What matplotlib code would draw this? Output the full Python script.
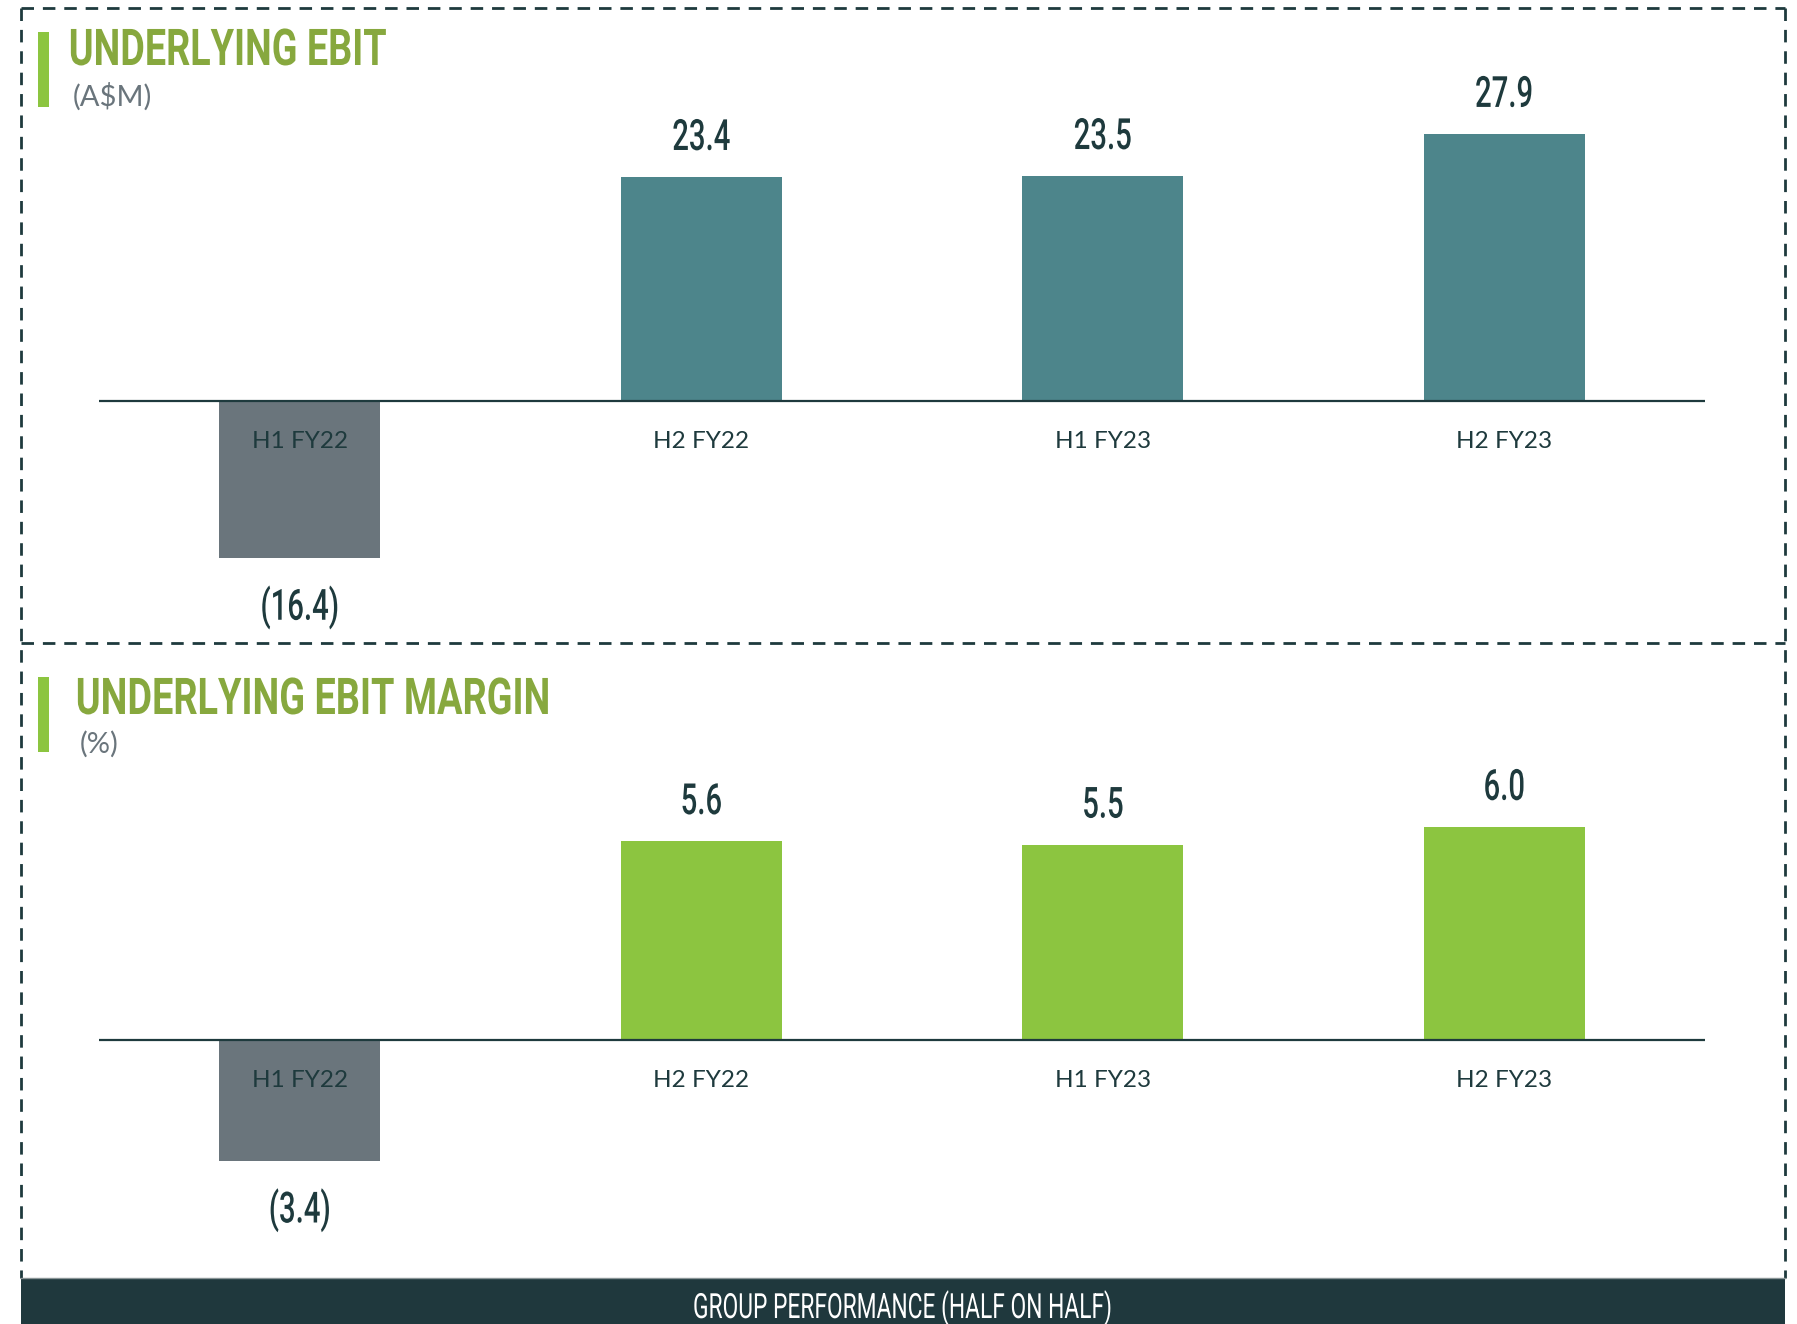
import matplotlib
matplotlib.use("Agg")
import matplotlib.pyplot as plt
from matplotlib.lines import Line2D
from matplotlib.patches import Rectangle
from matplotlib.patheffects import AbstractPathEffect
from matplotlib.transforms import Affine2D

# ---- data ----
categories = ["H1 FY22", "H2 FY22", "H1 FY23", "H2 FY23"]
ebit_values = [-16.4, 23.4, 23.5, 27.9]
margin_values = [-3.4, 5.6, 5.5, 6.0]

title_top = "UNDERLYING EBIT"
unit_top = "(A$M)"
title_bottom = "UNDERLYING EBIT MARGIN"
unit_bottom = "(%)"
banner_text = "GROUP PERFORMANCE (HALF ON HALF)"

# ---- style ----
W, H = 1797, 1324
DARK = "#1e3a3d"
TEAL = "#4d858b"
GREEN = "#8cc540"
GREY = "#6a757c"
TITLE_GREEN = "#87a83e"
SUB_GREY = "#6a757c"
COND = ["Roboto", "DejaVu Sans"]
BODY = ["Lato", "DejaVu Sans"]


class Squeeze(AbstractPathEffect):
    """Draw the glyphs horizontally condensed (the text stays a Text artist)."""

    def __init__(self, sx=None, target=None, anchor="center"):
        super().__init__()
        self.sx = sx
        self.target = target
        self.anchor = anchor

    def draw_path(self, renderer, gc, tpath, affine, rgbFace=None):
        ext = tpath.get_extents()
        sx = self.sx
        if self.target is not None:
            w = tpath.transformed(affine).get_extents().width
            sx = self.target / w if w > 0 else 1.0
        cx = (ext.x0 + ext.x1) / 2 if self.anchor == "center" else ext.x0
        t = Affine2D().translate(-cx, 0).scale(sx, 1).translate(cx, 0) + affine
        renderer.draw_path(gc, tpath, t, rgbFace)


fig = plt.figure(figsize=(W / 100, H / 100), dpi=100)
fig.patch.set_facecolor("white")


def fx(px):
    return px / W


def fy(py):
    return 1 - py / H


def fmt(v):
    return f"({abs(v):.1f})" if v < 0 else f"{v:.1f}"


VAL_SQUEEZE = [Squeeze(sx=0.68)]


def panel(top_px, bottom_px, axis_px, px_per_unit, values, pos_color):
    ax = fig.add_axes([fx(99), fy(bottom_px), fx(1705) - fx(99), (bottom_px - top_px) / H])
    ax.set_xlim(-0.5, 3.5)
    ax.set_ylim(-(bottom_px - axis_px) / px_per_unit, (axis_px - top_px) / px_per_unit)
    ax.axis("off")
    x = list(range(len(categories)))
    colors = [GREY if v < 0 else pos_color for v in values]
    ax.bar(x, values, width=0.4, color=colors, zorder=2)
    ax.axhline(0, color=DARK, lw=1.6, zorder=3)
    for xi, v, c in zip(x, values, categories):
        ax.annotate(c, (xi, 0), xytext=(0, -34), textcoords="offset points",
                    ha="center", va="baseline", fontsize=17.5, color=DARK,
                    family=BODY, zorder=4)
        off = 19.5 if v >= 0 else -44.5
        ax.annotate(fmt(v), (xi, v), xytext=(0, off), textcoords="offset points",
                    ha="center", va="baseline", fontsize=31, color=DARK,
                    fontweight="medium", family=COND, path_effects=VAL_SQUEEZE,
                    zorder=4)
    return ax


panel(8, 643, 401, 9.57, ebit_values, TEAL)
panel(643, 1278, 1040, 35.5, margin_values, GREEN)

# ---- dashed frame ----
dash = dict(color=DARK, lw=2.0, linestyle=(0, (4.5, 3.2)))
L, R = 21, 1785
for (x0, y0, x1, y1) in [(L, 8, R, 8), (L, 643, R, 643), (L, 8, L, 1278), (R, 8, R, 1278)]:
    fig.add_artist(Line2D([fx(x0), fx(x1)], [fy(y0), fy(y1)], transform=fig.transFigure, **dash))

# ---- titles ----
for (top, bot, tx, ty, title, tw, ux, uy, unit) in [
    (32, 107, 68, 65, title_top, 315, 73, 106, unit_top),
    (677, 752, 75, 714, title_bottom, 470, 80, 753, unit_bottom),
]:
    fig.add_artist(Rectangle((fx(37.5), fy(bot)), fx(48.5) - fx(37.5), (bot - top) / H,
                             transform=fig.transFigure, color=GREEN, lw=0))
    fig.text(fx(tx), fy(ty), title, ha="left", va="baseline", fontsize=36.5,
             fontweight="bold", color=TITLE_GREEN, family=COND,
             path_effects=[Squeeze(target=tw, anchor="left")])
    fig.text(fx(ux), fy(uy), unit, ha="left", va="baseline", fontsize=21,
             color=SUB_GREY, family=BODY)

# ---- banner ----
fig.add_artist(Rectangle((fx(L), 0), fx(R) - fx(L), (H - 1278) / H,
                         transform=fig.transFigure, color="#1f383d", lw=0))
fig.add_artist(Line2D([fx(L), fx(R)], [fy(1278), fy(1278)], transform=fig.transFigure,
                      color="#8a9597", lw=1.0))
fig.text(fx(903), fy(1318), banner_text, ha="center", va="baseline", fontsize=25,
         color="white", family=COND, path_effects=[Squeeze(target=416)])

fig.savefig("out.png", dpi=100, facecolor="white")
